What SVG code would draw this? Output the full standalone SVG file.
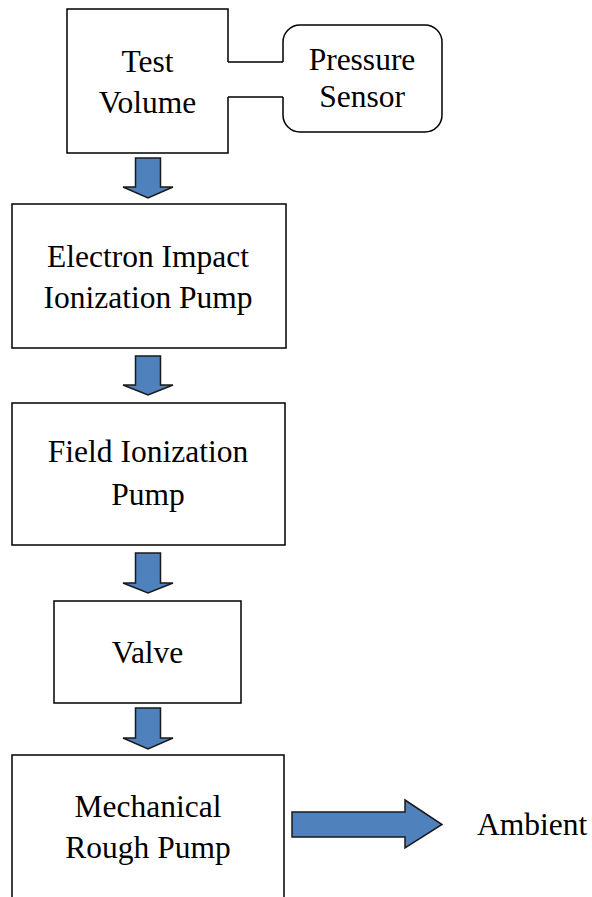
<svg xmlns="http://www.w3.org/2000/svg" width="592" height="897" viewBox="0 0 592 897">
<style>
.box{fill:none;stroke:#000;stroke-width:1.5}
.arr{fill:#4F81BD;stroke:#1a1a1a;stroke-width:1.5;stroke-linejoin:miter}
text{font-size:31.5px;fill:#000}
.c{text-anchor:middle}
</style>
<rect width="592" height="897" fill="#fff"/>
<g font-family="'Liberation Serif', 'DejaVu Serif', serif">
<g id="test-volume">
<path class="box" d="M228,62 V9 H67 V153 H228 V97"/>
<text class="c" x="147.5" y="72">Test</text>
<text class="c" x="147.5" y="113">Volume</text>
</g>
<g id="pressure-sensor">
<path class="box" d="M283,62 V42 A17,17 0 0 1 300,25 H425 A17,17 0 0 1 442,42 V115 A17,17 0 0 1 425,132 H300 A17,17 0 0 1 283,115 V97"/>
<text class="c" x="362" y="70">Pressure</text>
<text class="c" x="362" y="107">Sensor</text>
</g>
<g id="electron-impact">
<rect class="box" x="12" y="204" width="274" height="144"/>
<text class="c" x="148" y="267">Electron Impact</text>
<text class="c" x="148" y="308">Ionization Pump</text>
</g>
<g id="field-ionization">
<rect class="box" x="12" y="403" width="273" height="142"/>
<text class="c" x="148" y="462">Field Ionization</text>
<text class="c" x="148" y="505">Pump</text>
</g>
<g id="valve">
<rect class="box" x="54" y="601" width="187" height="102"/>
<text class="c" x="147.5" y="663">Valve</text>
</g>
<g id="rough-pump">
<path class="box" d="M12,905 V755 H284 V905"/>
<text class="c" x="148" y="817">Mechanical</text>
<text class="c" x="148" y="858">Rough Pump</text>
</g>
<g id="ambient">
<text x="477" y="835">Ambient</text>
</g>
</g>
<g id="connectors">
<path class="box" d="M228,62 H283 M228,97 H283"/>
<path class="arr" d="M135.5,158 H160.5 V187 H173 L148,198 L123,187 H135.5 Z"/>
<path class="arr" d="M135.5,356 H160.5 V385 H173 L148,395 L123,385 H135.5 Z"/>
<path class="arr" d="M135.5,553 H160.5 V583 H173 L148,593 L123,583 H135.5 Z"/>
<path class="arr" d="M135.5,708 H160.5 V738 H173 L148,749 L123,738 H135.5 Z"/>
<path class="arr" d="M292,812 H405 V800 L442,824.5 L405,848 V837 H292 Z"/>
</g>
</svg>
